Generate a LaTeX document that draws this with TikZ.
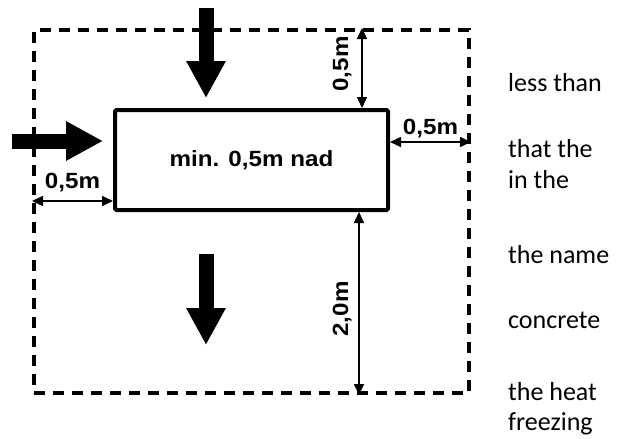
\documentclass[tikz,border=0pt]{standalone}
\usepackage{fontspec}
\setmainfont{Carlito}
\newfontfamily\dimfont{Liberation Sans}
\usetikzlibrary{arrows.meta,calc}
\newcommand\widetxt[1]{\scalebox{1.1}[1]{#1}}

\tikzset{
  pit/.style = {draw, line width=4pt, rounded corners=1.5pt, minimum width=273pt, minimum height=100pt, inner sep=0pt},
  zone/.style = {draw, line width=4pt, dash pattern=on 11pt off 8pt, minimum width=435pt, minimum height=363pt, inner sep=0pt},
  dim/.style = {{Triangle[length=11pt,width=10pt]}-{Triangle[length=11pt,width=10pt]}, line width=1.6pt},
  flow/.style = {-{Triangle[length=37pt,width=37pt]}, line width=15pt},
  lbl/.style = {font=\dimfont\bfseries\fontsize{22}{22}\selectfont, inner sep=0pt},
  side/.style = {font=\fontsize{26}{31}\selectfont, anchor=base west, inner sep=0pt}
}

\begin{document}
\begin{tikzpicture}[x=1pt, y=-1pt]
	\useasboundingbox (0,0) rectangle (625,439);
	\node[zone] (zone) at (251.5,211.5) {};
	\node[pit, lbl] (pit) at (251.5,160) {\widetxt{min. 0,5m nad}};
	% heat flow
	\draw[flow] ($(pit.north)+(-45.5,-100)$) -- ($(pit.north)+(-45.5,-10)$);
	\draw[flow] ($(pit.west)+(-101,-19)$) -- ($(pit.west)+(-10,-19)$);
	\draw[flow] ($(pit.south)+(-45.5,42)$) -- ($(pit.south)+(-45.5,133)$);
	% dimensions
	\coordinate (dt) at ($(pit.north east)+(-28,0)$);
	\coordinate (db) at ($(pit.south east)+(-31,0)$);
	\coordinate (dr) at ($(pit.east)+(0,-18)$);
	\coordinate (dl) at ($(pit.west)+(0,41)$);
	\draw[dim] (dt |- zone.north) -- (dt);
	\draw[dim] (db) -- (db |- zone.south);
	\draw[dim] (dr) -- (dr -| zone.east) node[lbl, midway, anchor=base, yshift=8pt] (rlbl) {\widetxt{0,5m}};
	\draw[dim] (dl -| zone.west) -- (dl) node[lbl, midway, anchor=base, yshift=13pt] (llbl) {\widetxt{0,5m}};
	\node[lbl, rotate=90, anchor=base] (tlbl) at ($(dt |- zone.north)!0.45!(dt)+(-14,0)$) {\widetxt{0,5m}};
	\node[lbl, rotate=90, anchor=base] (blbl) at ($(db)!0.53!(db |- zone.south)+(-11,0)$) {\widetxt{2,0m}};
	% text beside
	\node[side] (t1) at (508,92) {less than};
	\node[side] (t2) at (508,157) {that the};
	\node[side] (t3) at (508,188) {in the};
	\node[side] (t4) at (508,263) {the name};
	\node[side] (t5) at (508,328) {concrete};
	\node[side] (t6) at (508,400) {the heat};
	\node[side] (t7) at (508,430) {freezing};
\end{tikzpicture}
\end{document}
